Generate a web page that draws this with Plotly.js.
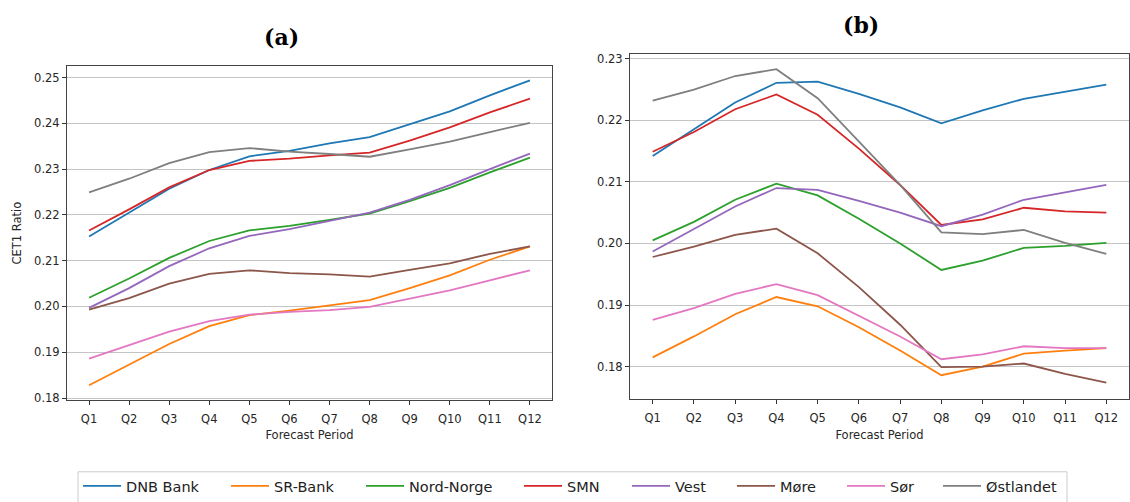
<!DOCTYPE html>
<html>
<head>
<meta charset="utf-8">
<script src="https://cdn.plot.ly/plotly-3.0.1.min.js"></script>
<style>html,body{margin:0;padding:0;background:#fff;}#chart{width:1130px;height:502px;}</style>
</head>
<body>
<div id="chart"></div>
<script>
// ---- data ----
const periods = ["Q1","Q2","Q3","Q4","Q5","Q6","Q7","Q8","Q9","Q10","Q11","Q12"];
const banks = ["DNB Bank","SR-Bank","Nord-Norge","SMN","Vest","Møre","Sør","Østlandet"];
const colors = ["#1f77b4","#ff7f0e","#2ca02c","#d62728","#9467bd","#8c564b","#e377c2","#7f7f7f"];

// panel (a)
const a_dnb   = [0.2153,0.2205,0.2257,0.2298,0.2328,0.2340,0.2356,0.2370,0.2398,0.2426,0.2461,0.2494];
const a_sr    = [0.1828,0.1873,0.1918,0.1957,0.1981,0.1991,0.2002,0.2014,0.2040,0.2068,0.2102,0.2131];
const a_nord  = [0.2019,0.2061,0.2106,0.2143,0.2166,0.2176,0.2189,0.2203,0.2230,0.2259,0.2293,0.2325];
const a_smn   = [0.2166,0.2212,0.2260,0.2298,0.2318,0.2323,0.2330,0.2336,0.2362,0.2391,0.2424,0.2454];
const a_vest  = [0.1997,0.2040,0.2088,0.2127,0.2154,0.2169,0.2187,0.2205,0.2233,0.2265,0.2300,0.2334];
const a_more  = [0.1993,0.2018,0.2050,0.2071,0.2079,0.2073,0.2070,0.2065,0.2080,0.2094,0.2115,0.2131];
const a_sor   = [0.1886,0.1916,0.1945,0.1968,0.1982,0.1988,0.1992,0.1999,0.2017,0.2035,0.2057,0.2079];
const a_ost   = [0.2249,0.2279,0.2313,0.2337,0.2346,0.2338,0.2333,0.2327,0.2343,0.2360,0.2381,0.2401];

// panel (b)
const b_dnb   = [0.2142,0.2186,0.2229,0.2261,0.2263,0.2243,0.2221,0.2195,0.2216,0.2235,0.2246,0.2258];
const b_sr    = [0.1815,0.1849,0.1885,0.1913,0.1898,0.1864,0.1826,0.1786,0.1800,0.1821,0.1826,0.1830];
const b_nord  = [0.2005,0.2035,0.2071,0.2097,0.2078,0.2040,0.2000,0.1957,0.1972,0.1993,0.1996,0.2001];
const b_smn   = [0.2149,0.2181,0.2218,0.2242,0.2209,0.2154,0.2095,0.2030,0.2039,0.2058,0.2052,0.2050];
const b_vest  = [0.1987,0.2023,0.2060,0.2090,0.2087,0.2069,0.2050,0.2028,0.2047,0.2071,0.2083,0.2095];
const b_more  = [0.1978,0.1995,0.2014,0.2024,0.1984,0.1929,0.1868,0.1799,0.1800,0.1805,0.1788,0.1774];
const b_sor   = [0.1876,0.1895,0.1918,0.1934,0.1916,0.1883,0.1849,0.1812,0.1820,0.1833,0.1830,0.1830];
const b_ost   = [0.2232,0.2250,0.2272,0.2283,0.2236,0.2166,0.2095,0.2018,0.2015,0.2022,0.2001,0.1983];

const seriesA = [a_dnb,a_sr,a_nord,a_smn,a_vest,a_more,a_sor,a_ost];
const seriesB = [b_dnb,b_sr,b_nord,b_smn,b_vest,b_more,b_sor,b_ost];

const yTicksA = [0.18,0.19,0.20,0.21,0.22,0.23,0.24,0.25];
const yTicksB = [0.18,0.19,0.20,0.21,0.22,0.23];

// legend anchor positions (px from left) for each entry
const legendX = [78,226,361,519,627,732,842,938];

// ---- build ----
const W = 1130, H = 502;
const px = v => v / W;
const py = v => 1 - v / H;

const traces = [];
const legendLayouts = {};
banks.forEach((name, i) => {
  const lg = i === 0 ? "legend" : "legend" + (i + 1);
  traces.push({
    x: periods, y: seriesA[i], type: "scatter", mode: "lines", name: name,
    line: {color: colors[i], width: 1.8}, xaxis: "x", yaxis: "y",
    legend: lg, showlegend: true, hoverinfo: "skip"
  });
  traces.push({
    x: periods, y: seriesB[i], type: "scatter", mode: "lines", name: name,
    line: {color: colors[i], width: 1.8}, xaxis: "x2", yaxis: "y2",
    showlegend: false, hoverinfo: "skip"
  });
  legendLayouts[lg] = {
    x: px(legendX[i]), xanchor: "left", y: py(491), yanchor: "middle",
    orientation: "h", bgcolor: "rgba(0,0,0,0)", borderwidth: 0,
    font: {family: "DejaVu Sans", size: 14.5, color: "#222"}, itemwidth: 38
  };
});

const tickFont = {family: "DejaVu Sans", size: 11.5, color: "#262626"};
const titleFont = {family: "DejaVu Sans", size: 11.5, color: "#262626"};

function xAxis(domain, anchor) {
  return {
    domain: domain, anchor: anchor, type: "category", range: [-0.55, 11.55],
    showline: true, mirror: true, linecolor: "#444", linewidth: 1,
    ticks: "outside", ticklen: 4, tickcolor: "#333", tickwidth: 1,
    ticklabelstandoff: 4,
    showgrid: false, zeroline: false, tickfont: tickFont,
    title: {text: "Forecast Period", font: titleFont, standoff: 6},
    automargin: false, fixedrange: true
  };
}
function yAxis(domain, anchor, range, tv, withTitle) {
  const ax = {
    domain: domain, anchor: anchor, range: range,
    tickvals: tv, ticktext: tv.map(v => v.toFixed(2)),
    showline: true, mirror: true, linecolor: "#444", linewidth: 1,
    ticks: "outside", ticklen: 4, tickcolor: "#333", tickwidth: 1,
    showgrid: true, gridcolor: "#c4c4c4", gridwidth: 1, zeroline: false,
    tickfont: tickFont, automargin: false, fixedrange: true
  };
  if (withTitle) ax.title = {text: "CET1 Ratio", font: titleFont, standoff: 10};
  return ax;
}

const layout = Object.assign({
  width: W, height: H,
  margin: {l: 0, r: 0, t: 0, b: 0, pad: 0},
  paper_bgcolor: "#fff", plot_bgcolor: "#fff",
  xaxis: xAxis([px(67), px(552)], "y"),
  yaxis: yAxis([py(404), py(67)], "x", [0.17957, 0.25245], yTicksA, true),
  xaxis2: xAxis([px(630), px(1129)], "y2"),
  yaxis2: yAxis([py(403.3), py(55)], "x2", [0.17469, 0.2307], yTicksB, false),
  annotations: [
    {text: "<b>(a)</b>", x: px(281), y: py(37), xref: "paper", yref: "paper",
     xanchor: "center", yanchor: "middle", showarrow: false,
     font: {family: "DejaVu Serif", size: 22, color: "#000"}},
    {text: "<b>(b)</b>", x: px(861), y: py(25), xref: "paper", yref: "paper",
     xanchor: "center", yanchor: "middle", showarrow: false,
     font: {family: "DejaVu Serif", size: 22, color: "#000"}}
  ],
  shapes: [
    {type: "rect", xref: "paper", yref: "paper",
     x0: px(78), x1: px(1067), y0: py(515), y1: py(476.5),
     line: {color: "#cccccc", width: 1}, fillcolor: "rgba(0,0,0,0)", layer: "below"}
  ]
}, legendLayouts);

Plotly.newPlot("chart", traces, layout, {staticPlot: true, displayModeBar: false});
</script>
</body>
</html>
